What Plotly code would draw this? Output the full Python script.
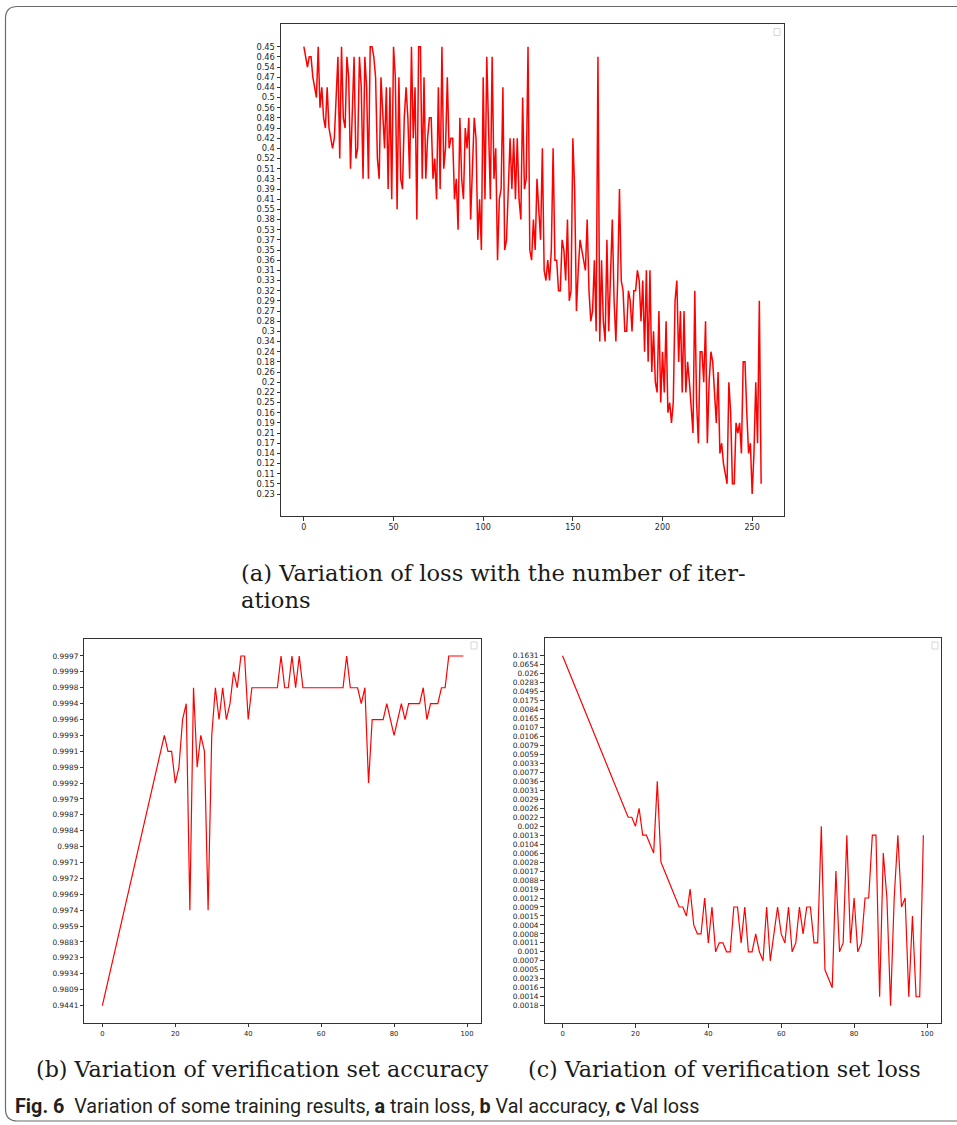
import plotly.graph_objects as go

W, H = 957, 1125

# ---------------- data (categorical values, as in the original figure) ----------------
loss_ticks = [0.45, 0.46, 0.54, 0.47, 0.44, 0.5, 0.56, 0.48, 0.49, 0.42, 0.4, 0.52, 0.51,
              0.43, 0.39, 0.41, 0.55, 0.38, 0.53, 0.37, 0.35, 0.36, 0.31, 0.33, 0.32, 0.29,
              0.27, 0.28, 0.3, 0.34, 0.24, 0.18, 0.26, 0.2, 0.22, 0.25, 0.16, 0.19, 0.21,
              0.17, 0.14, 0.12, 0.11, 0.15, 0.23]

train_loss = [
    0.45, 0.46, 0.54, 0.46, 0.46, 0.47, 0.44, 0.5, 0.45, 0.56,
    0.44, 0.48, 0.49, 0.44, 0.49, 0.42, 0.4, 0.42, 0.44, 0.46,
    0.52, 0.45, 0.48, 0.49, 0.46, 0.47, 0.51, 0.56, 0.46, 0.52,
    0.4, 0.46, 0.44, 0.43, 0.46, 0.44, 0.43, 0.45, 0.45, 0.46,
    0.47, 0.52, 0.43, 0.47, 0.48, 0.4, 0.44, 0.39, 0.44, 0.41,
    0.45, 0.47, 0.55, 0.47, 0.43, 0.39, 0.48, 0.44, 0.48, 0.43,
    0.45, 0.42, 0.44, 0.38, 0.45, 0.45, 0.43, 0.47, 0.43, 0.42,
    0.48, 0.48, 0.43, 0.52, 0.41, 0.44, 0.39, 0.45, 0.51, 0.4,
    0.47, 0.4, 0.42, 0.42, 0.41, 0.43, 0.53, 0.48, 0.43, 0.41,
    0.49, 0.4, 0.48, 0.38, 0.51, 0.48, 0.42, 0.37, 0.41, 0.35,
    0.47, 0.41, 0.46, 0.42, 0.41, 0.46, 0.43, 0.4, 0.36, 0.41,
    0.39, 0.44, 0.35, 0.37, 0.39, 0.42, 0.39, 0.42, 0.41, 0.42,
    0.41, 0.38, 0.5, 0.39, 0.43, 0.45,
    0.35, 0.36, 0.38, 0.35, 0.43, 0.55, 0.37, 0.4, 0.31, 0.33,
    0.36, 0.33, 0.35, 0.4, 0.36, 0.36, 0.32, 0.32, 0.37, 0.35,
    0.33, 0.38, 0.29, 0.32, 0.42, 0.39, 0.27, 0.31, 0.37, 0.35,
    0.36, 0.31, 0.38, 0.32, 0.28, 0.27, 0.36, 0.3, 0.46, 0.34,
    0.36, 0.28, 0.34, 0.37, 0.3, 0.33, 0.38, 0.29, 0.34, 0.33,
    0.39, 0.33, 0.32, 0.3, 0.3, 0.32, 0.29, 0.3, 0.32, 0.32,
    0.31, 0.33, 0.28, 0.33, 0.24, 0.31, 0.18, 0.31, 0.26, 0.3,
    0.2, 0.22, 0.27, 0.25, 0.24, 0.22, 0.28, 0.16, 0.25, 0.19,
    0.25, 0.29, 0.33, 0.18, 0.27, 0.22, 0.27, 0.22, 0.18, 0.2,
    0.16, 0.21, 0.32, 0.25, 0.17, 0.24, 0.24, 0.2, 0.28, 0.17,
    0.2, 0.24, 0.18, 0.22, 0.19, 0.26, 0.14, 0.17, 0.12, 0.11,
    0.15, 0.2, 0.16, 0.15, 0.15, 0.19, 0.21, 0.19, 0.14, 0.18,
    0.18, 0.16, 0.14, 0.17, 0.23, 0.14, 0.2, 0.17, 0.29, 0.15,
]

acc_ticks = [0.9441, 0.9809, 0.9934, 0.9923, 0.9883, 0.9959, 0.9974, 0.9969, 0.9972,
             0.9971, 0.998, 0.9984, 0.9987, 0.9979, 0.9992, 0.9989, 0.9991, 0.9993,
             0.9996, 0.9994, 0.9998, 0.9999, 0.9997]

val_acc = [
    0.9441, 0.9809, 0.9934, 0.9923, 0.9883, 0.9959, 0.9974, 0.9969, 0.9972, 0.9971,
    0.998, 0.9984, 0.9987, 0.9979, 0.9992, 0.9989, 0.9991, 0.9993, 0.9991, 0.9991,
    0.9992, 0.9989, 0.9996, 0.9994, 0.9974, 0.9998, 0.9989, 0.9993, 0.9991, 0.9974,
    0.9993, 0.9998, 0.9996, 0.9998, 0.9996, 0.9994, 0.9999, 0.9998, 0.9997, 0.9997,
    0.9996, 0.9998, 0.9998, 0.9998, 0.9998, 0.9998, 0.9998, 0.9998, 0.9998, 0.9997,
    0.9998, 0.9998, 0.9997, 0.9998, 0.9997, 0.9998, 0.9998, 0.9998, 0.9998, 0.9998,
    0.9998, 0.9998, 0.9998, 0.9998, 0.9998, 0.9998, 0.9998, 0.9997, 0.9998, 0.9998,
    0.9998, 0.9994, 0.9998, 0.9992, 0.9996, 0.9996, 0.9996, 0.9996, 0.9994, 0.9996,
    0.9993, 0.9996, 0.9994, 0.9996, 0.9994, 0.9994, 0.9994, 0.9994, 0.9998, 0.9996,
    0.9994, 0.9994, 0.9994, 0.9998, 0.9998, 0.9997, 0.9997, 0.9997, 0.9997, 0.9997,
]

vloss_ticks = [0.1631, 0.0654, 0.026, 0.0283, 0.0495, 0.0175, 0.0084, 0.0165, 0.0107,
               0.0106, 0.0079, 0.0059, 0.0033, 0.0077, 0.0036, 0.0031, 0.0029, 0.0026,
               0.0022, 0.002, 0.0013, 0.0104, 0.0006, 0.0028, 0.0017, 0.0088, 0.0019,
               0.0012, 0.0009, 0.0015, 0.0004, 0.0008, 0.0011, 0.001, 0.0007, 0.0005,
               0.0023, 0.0016, 0.0014, 0.0018]

val_loss = [
    0.1631, 0.0654, 0.026, 0.0283, 0.0495, 0.0175, 0.0084, 0.0165, 0.0107, 0.0106,
    0.0079, 0.0059, 0.0033, 0.0077, 0.0036, 0.0031, 0.0029, 0.0026, 0.0022, 0.0022,
    0.002, 0.0026, 0.0013, 0.0013, 0.0104, 0.0006, 0.0036, 0.0028, 0.0017, 0.0088,
    0.0019, 0.0012, 0.0009, 0.0009, 0.0015, 0.0019, 0.0004, 0.0008, 0.0008, 0.0012,
    0.0011, 0.0009, 0.001, 0.0011, 0.0011, 0.001, 0.001, 0.0009, 0.0009, 0.0011,
    0.0009, 0.001, 0.001, 0.0008, 0.001, 0.0007, 0.0009, 0.0007, 0.0008, 0.0009,
    0.0008, 0.0011, 0.0009, 0.001, 0.0011, 0.0009, 0.0008, 0.0009, 0.0009, 0.0011,
    0.0011, 0.002, 0.0005, 0.0023, 0.0016, 0.0017, 0.001, 0.0011, 0.0013, 0.0011,
    0.0012, 0.001, 0.0011, 0.0012, 0.0012, 0.0013, 0.0013, 0.0014, 0.0006, 0.0012,
    0.0018, 0.0012, 0.0013, 0.0009, 0.0012, 0.0014, 0.0015, 0.0014, 0.0014, 0.0013,
]

caption_a1 = "(a) Variation of loss with the number of iter-"
caption_a2 = "ations"
caption_b = "(b) Variation of verification set accuracy"
caption_c = "(c) Variation of verification set loss"
fig_caption = ("<b>Fig. 6</b>  Variation of some training results, <b>a</b> train loss, "
               "<b>b</b> Val accuracy, <b>c</b> Val loss")


def s(vals):
    return [str(v) for v in vals]


def fx(px):
    return px / W


def fy(py):
    return 1 - py / H


RED = "#ff0000"
fig = go.Figure()
fig.add_trace(go.Scatter(x=list(range(len(train_loss))), y=s(train_loss), mode="lines",
                         line=dict(color=RED, width=1.5), xaxis="x", yaxis="y"))
fig.add_trace(go.Scatter(x=list(range(len(val_acc))), y=s(val_acc), mode="lines",
                         line=dict(color=RED, width=1.2), xaxis="x2", yaxis="y2"))
fig.add_trace(go.Scatter(x=list(range(len(val_loss))), y=s(val_loss), mode="lines",
                         line=dict(color=RED, width=1.2), xaxis="x3", yaxis="y3"))

TICKC = "#262626"
common = dict(showline=True, mirror=True, linecolor="#333333", linewidth=0.9,
              ticks="outside", ticklen=3.5, tickwidth=0.8, tickcolor="#333333",
              showgrid=False, zeroline=False)


def xax(dom, rng, dtick, size, anchor):
    return dict(common, domain=dom, range=rng, tickmode="linear", tick0=0, dtick=dtick,
                anchor=anchor, tickfont=dict(family="DejaVu Sans", size=size, color=TICKC))


def yax(dom, rng, cats, size, anchor):
    c = s(cats)
    return dict(common, domain=dom, range=rng, type="category", categoryorder="array",
                categoryarray=c, tickmode="array", tickvals=c, ticktext=c, anchor=anchor,
                tickfont=dict(family="DejaVu Sans", size=size, color=TICKC))


la, ra, ta, ba = 281, 784, 24.3, 516.4
lb, rb, tb, bb = 84.3, 481.4, 638.5, 1023.0
lc, rc, tc, bc = 544.5, 941.4, 638.2, 1023.2

layout = dict(
    width=W, height=H, margin=dict(l=0, r=0, t=0, b=0),
    paper_bgcolor="white", plot_bgcolor="white", showlegend=False,
    xaxis=xax([fx(la), fx(ra)], [-12.75, 267.75], 50, 8, "y"),
    yaxis=yax([fy(ba), fy(ta)], [46.2, -2.2], loss_ticks, 8.3, "x"),
    xaxis2=xax([fx(lb), fx(rb)], [-4.95, 103.95], 20, 6.8, "y2"),
    yaxis2=yax([fy(bb), fy(tb)], [-1.1, 23.1], acc_ticks, 7.4, "x2"),
    xaxis3=xax([fx(lc), fx(rc)], [-4.95, 103.95], 20, 6.8, "y3"),
    yaxis3=yax([fy(bc), fy(tc)], [40.95, -1.95], vloss_ticks, 7.4, "x3"),
)

serif_a = dict(family="DejaVu Serif", size=22.6, color="#1a1a1a")
serif_bc = dict(family="DejaVu Serif", size=22.2, color="#1a1a1a")
ann = [
    dict(text=caption_a1, x=fx(239), y=fy(573), xanchor="left", yanchor="middle", font=serif_a),
    dict(text=caption_a2, x=fx(239), y=fy(600), xanchor="left", yanchor="middle", font=serif_a),
    dict(text=caption_b, x=fx(34), y=fy(1069), xanchor="left", yanchor="middle", font=serif_bc),
    dict(text=caption_c, x=fx(526), y=fy(1069), xanchor="left", yanchor="middle", font=serif_bc),
    dict(text=fig_caption, x=fx(13), y=fy(1106), xanchor="left", yanchor="middle",
         font=dict(family="Roboto", size=19.8, color="#231f20")),
]
for a in ann:
    a.update(xref="paper", yref="paper", showarrow=False)
layout["annotations"] = ann

# outer rounded frame
L, T, B, R, r = 5.5, 6.5, 1121.0, 975.0, 12.0
path = (f"M {fx(R)},{fy(T)} L {fx(L + r)},{fy(T)} Q {fx(L)},{fy(T)} {fx(L)},{fy(T + r)} "
        f"L {fx(L)},{fy(B - r)} Q {fx(L)},{fy(B)} {fx(L + r)},{fy(B)} L {fx(R)},{fy(B)}")
shapes = [dict(type="path", path=path, xref="paper", yref="paper",
               line=dict(color="#6b6b6b", width=1.2))]
# empty legend boxes
for (x0, y0) in [(774, 28.5), (471, 642), (932, 642)]:
    shapes.append(dict(type="rect", xref="paper", yref="paper",
                       x0=fx(x0), x1=fx(x0 + 6), y0=fy(y0 + 7), y1=fy(y0),
                       line=dict(color="#cccccc", width=0.8), fillcolor="white"))
layout["shapes"] = shapes

fig.update_layout(**layout)
fig.write_html("out.html")
